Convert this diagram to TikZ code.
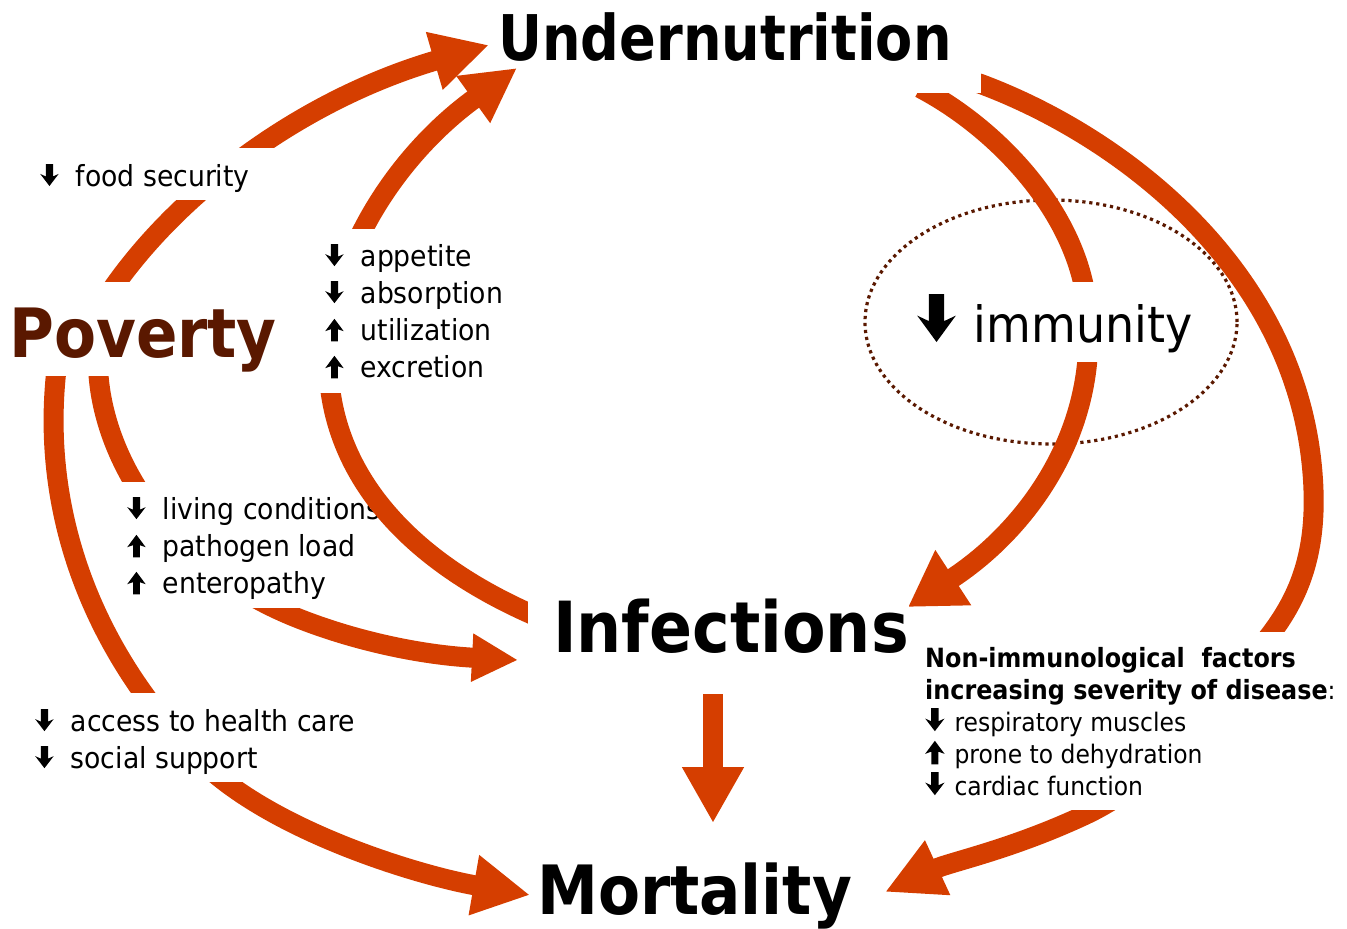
\documentclass[tikz,border=0pt]{standalone}
\usepackage{fontspec}
\setmainfont{DejaVu Sans}[FakeStretch=0.92]
\newfontfamily\bfam{DejaVu Sans}[FakeStretch=0.86]
\newfontfamily\bfamB{DejaVu Sans}[FakeStretch=0.9]
\usetikzlibrary{arrows.meta,shapes.geometric}
\definecolor{org}{RGB}{213,62,0}
\definecolor{brn}{RGB}{90,24,0}
\newcommand\dnar[2]{\tikz[baseline=0pt,x=#1pt,y=#2pt]\fill[black] (-3.3,20) -- (3.3,20) -- (3.3,8.7) -- (8.4,11) -- (0,0) -- (-8.4,11) -- (-3.3,8.7) -- cycle;}
\newcommand\upar[2]{\tikz[baseline=0pt,x=#1pt,y=#2pt]\fill[black] (-3.1,-1) -- (3.1,-1) -- (3.1,10) -- (8.4,8.2) -- (0,19.5) -- (-8.4,8.2) -- (-3.1,10) -- cycle;}
\newcommand\sq[2]{\rule[-#2pt]{0pt}{\dimexpr#1pt+#2pt\relax}}
\newcommand\dl{\dnar{1.1}{1.1}\hspace{17pt}}
\newcommand\ul{\upar{1.1}{1.1}\hspace{17pt}}
\begin{document}
\begin{tikzpicture}[x=1pt,y=-1pt,
  arc/.style={draw=org,line width=20pt},
  mask/.style={fill=white,inner sep=0pt},
  big/.style={font=\bfam\bfseries\fontsize{#1}{#1}\selectfont},
  bigB/.style={font=\bfamB\bfseries\fontsize{#1}{#1}\selectfont},
  lst/.style={font=\fontsize{29}{37}\selectfont,align=left,anchor=north west,inner ysep=0pt,fill=white}]
\useasboundingbox (0,0) rectangle (1347,929);
% dotted ring
\node[ellipse,draw=brn,line width=3.2pt,dash pattern=on 3.2pt off 3.8pt,minimum width=372pt,minimum height=244pt,inner sep=0pt] (ring) at (1051,322) {};
% coordinates
\coordinate (e0) at (920,88);   \coordinate (e1) at (908,607);
\coordinate (f0) at (978,83);   \coordinate (f1) at (885,892);
\coordinate (c0) at (98,365);   \coordinate (c1) at (518,660);
\coordinate (d0) at (57,365);   \coordinate (d1) at (530,895);
\coordinate (a0) at (108,295);  \coordinate (a1) at (489,45);
\coordinate (b0) at (545,620);  \coordinate (b1) at (517,68);
\coordinate (g0) at (713,694);  \coordinate (g1) at (713,823);
% arcs under the first masks
\draw[arc,-{Triangle[length=54pt,width=62pt]}] (e0) .. controls (1000,130) and (1085,220) .. (1088,320) .. controls (1095,440) and (1022,533) .. (e1);
\draw[arc,-{Triangle[length=58pt,width=56pt]}] (f0) .. controls (1120,135) and (1300,270) .. (1313,480) .. controls (1318,560) and (1295,605) .. (1262,645) .. controls (1225,700) and (1160,780) .. (1085,815) .. controls (1010,850) and (950,862) .. (f1);
\draw[arc,-{Triangle[length=46pt,width=45pt]}] (c0) .. controls (100,450) and (160,560) .. (290,615) .. controls (350,640) and (420,655) .. (c1);
\draw[arc,-{Triangle[length=57pt,width=57pt]}] (d0) .. controls (38,520) and (100,660) .. (200,760) .. controls (270,830) and (416,875) .. (d1);
% first masks
\node[mask,anchor=base west,big=63] (under) at (498,60) {\sq{48}{33}\makebox[483pt][l]{Undernutrition}};
\node[lst,inner xsep=9pt] (living) at (118,482) {\sq{37}{0}\dl living conditions\\ \ul pathogen load\\ \ul enteropathy\sq{0}{15}};
\node[lst,inner xsep=10pt] (access) at (25,693) {\sq{38}{0}\dl access to health care\\ \dl social support\sq{0}{14}};
\node[mask,anchor=base west,font=\fontsize{50}{50}\selectfont] (immunity) at (912,342) {\sq{60}{20}\hspace{5pt}\dnar{2.3}{2.4}\hspace{18pt}immunity\hspace{7pt}};
\node[lst,font=\fontsize{25.5}{32}\selectfont,inner xsep=5pt] (nonimm) at (920,632) {\sq{35}{0}{\bfamB\bfseries\fontsize{26.5}{32}\selectfont Non-immunological\ \ factors}\\ {\bfamB\bfseries\fontsize{26.5}{32}\selectfont increasing severity of disease}:\\ \dnar{1.15}{1.15}\hspace{10pt}respiratory muscles\\ \upar{1.15}{1.15}\hspace{10pt}prone to dehydration\\ \dnar{1.15}{1.15}\hspace{10pt}cardiac function\sq{0}{15}};
% arcs into Undernutrition
\draw[arc,-{Triangle[length=57pt,width=56pt]}] (a0) .. controls (175,195) and (300,100) .. (a1);
\draw[arc,-{Triangle[length=54pt,width=54pt]}] (b0) .. controls (400,560) and (315,460) .. (330,330) .. controls (345,230) and (410,145) .. (b1);
% second masks
\node[mask,anchor=base west,bigB=68,text=brn] (poverty) at (9,357) {\sq{75}{19}Poverty};
\node[mask,anchor=base west,font=\fontsize{29}{37}\selectfont] (food) at (33,186) {\sq{38}{14}\makebox[242pt][l]{\hspace{7pt}\dnar{1.1}{1.1}\hspace{17pt}food security}};
\node[lst,inner xsep=10pt] (appetite) at (315,229) {\sq{37}{0}\dl appetite\\ \dl absorption\\ \ul utilization\\ \ul excretion\sq{0}{16}};
\node[mask,anchor=base west,bigB=70.5] (infections) at (528,652) {\sq{62}{18}\hspace{25pt}Infections};
% Infections -> Mortality
\draw[arc,-{Triangle[length=56pt,width=58pt]}] (g0) -- (g1);
\node[anchor=base west,inner sep=0pt,bigB=68] (mortality) at (537,914) {Mortality};
\end{tikzpicture}
\end{document}
